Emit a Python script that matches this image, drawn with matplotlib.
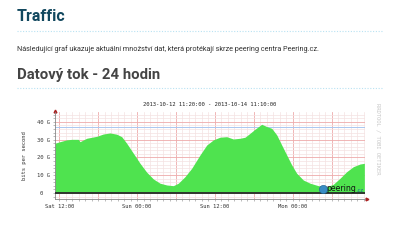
import matplotlib
matplotlib.use("Agg")
import matplotlib.pyplot as plt
from matplotlib.lines import Line2D

# hodiny od zacatku grafu (2013-10-12 11:20) a datovy tok v Gbit/s
hours = [0, 0.77, 1.8, 2.58, 3.6, 3.86, 4.89, 6.43, 7.45, 8.49, 9.52, 10.29,
         11.06, 12.08, 13.12, 14.15, 15.17, 16.2, 17.24, 18.25, 19.03, 20.06,
         21.09, 22.37, 23.41, 24.43, 25.46, 26.49, 27.51, 28.55, 29.32, 30.09,
         30.86, 31.89, 32.67, 33.44, 34.21, 34.98, 35.75, 36.52, 37.29, 38.31,
         39.35, 40.63, 41.92, 42.94, 43.98, 45.01, 46.03, 47.06, 47.73]
traffic = [28.0, 28.9, 29.9, 30.2, 30.2, 28.9, 30.8, 31.9, 33.2, 33.8, 33.1, 31.7,
           28.0, 22.4, 16.7, 11.7, 7.9, 5.5, 4.5, 4.1, 5.5, 9.2,
           13.9, 21.4, 27.0, 29.9, 31.4, 31.7, 30.4, 30.8, 31.4, 33.6,
           35.9, 38.7, 37.4, 36.4, 32.7, 27.0, 21.4, 15.8, 11.1, 7.3,
           5.5, 4.1, 3.5, 4.9, 8.3, 12.0, 14.8, 16.3, 16.7]
max_line = 37.0

label_hours = [0.667, 12.667, 24.667, 36.667]
label_texts = ["Sat 12:00", "Sun 00:00", "Sun 12:00", "Mon 00:00"]
y_ticks = [0, 10, 20, 30, 40]
y_labels = ["0  ", "10 G", "20 G", "30 G", "40 G"]

header = "Traffic"
intro = "Následující graf ukazuje aktuální množství dat, která protékají skrze peering centra Peering.cz."
subtitle = "Datový tok - 24 hodin"
period = "2013-10-12 11:20:00 - 2013-10-14 11:10:00"

mono = "DejaVu Sans Mono"

fig = plt.figure(figsize=(4, 2.5), dpi=100)
fig.patch.set_facecolor("white")

# hlavicka stranky
fig.text(17 / 400, 1 - 16.5 / 250, header, family="Roboto", weight="bold",
         fontsize=11.5, color="#12485f", va="center", ha="left")
fig.add_artist(Line2D([17 / 400, 383 / 400], [1 - 31 / 250] * 2, color="#b9e2f2",
                      lw=0.8, ls=(0, (1, 1.5))))
fig.text(17 / 400, 1 - 49 / 250, intro, family="Roboto", fontsize=5.2,
         color="#333333", va="center", ha="left")
fig.text(17 / 400, 1 - 75 / 250, subtitle, family="Roboto", weight="bold",
         fontsize=10.7, color="#444444", va="center", ha="left")
fig.add_artist(Line2D([17 / 400, 383 / 400], [1 - 88 / 250] * 2, color="#b9e2f2",
                      lw=0.8, ls=(0, (1, 1.5))))

# RRD graf
ax = fig.add_axes([55 / 400, 1 - 199 / 250, 310 / 400, 87 / 250])
ax.set_xlim(0, 47.83)
ax.set_ylim(-3.4, 45.6)

ax.set_xticks([label_hours[0] + 6 * i for i in range(8)])
ax.set_xticklabels([label_texts[i // 2] if i % 2 == 0 else "" for i in range(8)])
ax.set_xticks([h + 0.667 for h in range(48)], minor=True)
ax.set_yticks(y_ticks)
ax.set_yticklabels(y_labels)
ax.set_yticks(range(-2, 46, 2), minor=True)

ax.grid(which="minor", color="#f4e2e2", lw=0.5)
ax.grid(which="major", color="#eeaaaa", lw=0.6)
ax.set_axisbelow(True)

ax.fill_between(hours, 0, traffic, color="#4fe34f", lw=0, zorder=2)
ax.axhline(max_line, color="#a9c7f0", lw=0.7, zorder=1.5)
ax.axhline(0, color="#2a2a2a", lw=1.3, zorder=3)

for s in ["top", "right"]:
    ax.spines[s].set_visible(False)
ax.spines["left"].set_color("#888888")
ax.spines["bottom"].set_color("#888888")
ax.spines["left"].set_linewidth(0.6)
ax.spines["bottom"].set_linewidth(0.6)
ax.plot(1.005, 0, ">", transform=ax.transAxes, clip_on=False, color="#aa2222", ms=2)
ax.plot(0, 1.01, "^", transform=ax.transAxes, clip_on=False, color="#aa2222", ms=2)

ax.tick_params(which="both", length=1.5, width=0.4, color="#888888",
               labelsize=4, pad=2, labelcolor="#333333")
for lab in ax.get_xticklabels() + ax.get_yticklabels():
    lab.set_family(mono)

ax.set_ylabel("bits per second", family=mono, fontsize=4, color="#333333", labelpad=7)
ax.set_title(period, family=mono, fontsize=4, color="#222222", pad=4)
ax.text(1.035, 1.1, "RRDTOOL / TOBI OETIKER", transform=ax.transAxes, family=mono,
        fontsize=4, color="#c8c8c8", rotation=270, ha="left", va="top")

# logo peering.cz
ax.plot(0.863, 0.115, "o", transform=ax.transAxes, ms=6, color="#3a8cc4",
        mec="#1d6090", mew=0.4, zorder=4)
ax.text(0.876, 0.115, "peering", transform=ax.transAxes, fontsize=5.6,
        family="DejaVu Sans", color="#111111", va="center", ha="left", zorder=4)
ax.text(0.972, 0.095, ".cz", transform=ax.transAxes, fontsize=3.6,
        family="DejaVu Sans", color="#1d6090", va="center", ha="left", zorder=4)

fig.savefig("out.png", dpi=100, facecolor="white")
